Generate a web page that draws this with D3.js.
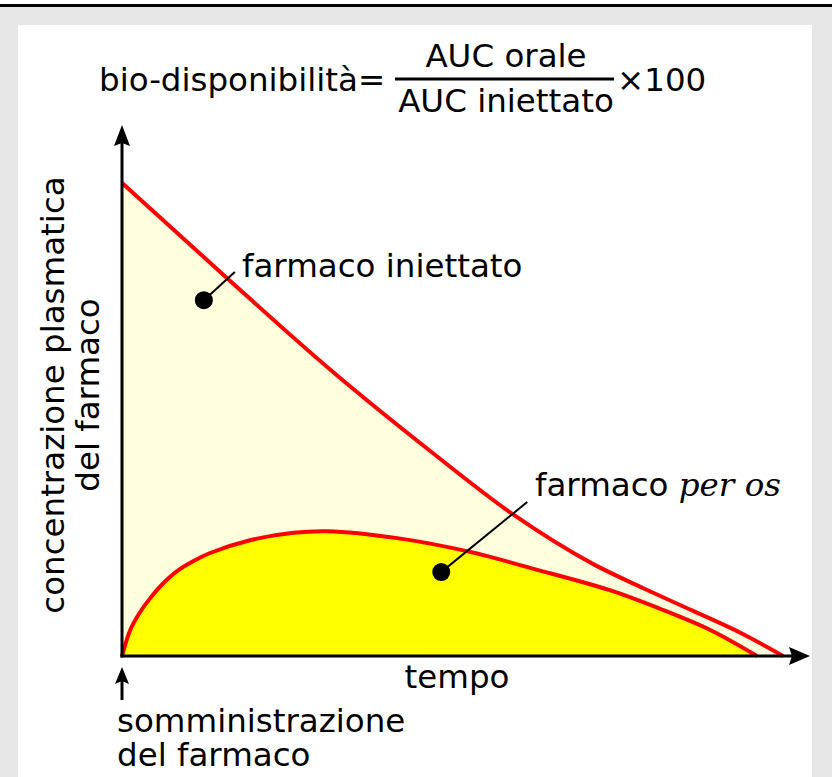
<!DOCTYPE html>
<html>
<head>
<meta charset="utf-8">
<script src="https://cdn.jsdelivr.net/npm/d3@7"></script>
<style>
  html, body { margin: 0; padding: 0; background: #fff; }
  svg { display: block; font-family: "DejaVu Sans", sans-serif; }
</style>
</head>
<body>
<svg id="chart" width="832" height="777"></svg>
<script>
// tempo (arbitrary units) and plasma concentration
const tempoIniettato = [0, 1.54, 3.02, 4.48, 5.68, 6.85, 7.57, 8.30, 9.03, 9.61];
const concIniettato = [8.91, 7.10, 5.40, 3.86, 2.67, 1.73, 1.28, 0.85, 0.41, 0];

const tempoOrale = [0, 0.12, 0.25, 0.41, 0.60, 0.80, 1.04, 1.28, 1.86, 2.49, 2.98, 4.00, 5.06, 5.93, 7.09, 7.82, 8.55, 9.23];
const concOrale = [0, 0.49, 0.80, 1.09, 1.37, 1.60, 1.79, 1.94, 2.18, 2.32, 2.35, 2.22, 1.96, 1.66, 1.24, 0.89, 0.49, 0];

// annotation dots and leader ends, in data units
const labelDots = [
  { t: 1.19, c: 6.70, tEnd: 1.64, cEnd: 7.23 },
  { t: 4.64, c: 1.58, tEnd: 5.89, cEnd: 2.90 },
];

const width = 832;
const height = 777;
const svg = d3.select('#chart');

const xScale = d3.scaleLinear().domain([0, 10]).range([122, 810]);
const yScale = d3.scaleLinear().domain([0, 10]).range([656, 125]);

// background frame
svg.append('rect').attr('x', 0).attr('y', 0).attr('width', width).attr('height', height).attr('fill', '#e6e6e6');
svg.append('rect').attr('x', 0).attr('y', 0).attr('width', width).attr('height', 4).attr('fill', '#fff');
svg.append('rect').attr('x', 0).attr('y', 4).attr('width', width).attr('height', 3).attr('fill', '#000');
svg.append('rect').attr('x', 18).attr('y', 25).attr('width', 794).attr('height', height - 25).attr('fill', '#fff');

const zip = (ts, cs) => ts.map((t, i) => ({ t, c: cs[i] }));
const dataIniettato = zip(tempoIniettato, concIniettato);
const dataOrale = zip(tempoOrale, concOrale);

const drawCurve = (data, fill, curve) => {
  const area = d3.area().x((d) => xScale(d.t)).y0(yScale(0)).y1((d) => yScale(d.c)).curve(curve);
  const line = d3.line().x((d) => xScale(d.t)).y((d) => yScale(d.c)).curve(curve);
  svg.append('path').attr('d', area(data)).attr('fill', fill);
  return () => svg.append('path').attr('d', line(data))
    .attr('fill', 'none').attr('stroke', '#ff0000').attr('stroke-width', 4);
};

const strokeIniettato = drawCurve(dataIniettato, '#ffffde', d3.curveMonotoneX);
const strokeOrale = drawCurve(dataOrale, '#ffff00', d3.curveCatmullRom.alpha(0.5));
strokeIniettato();
strokeOrale();

// axes with arrow heads
const x0 = xScale(0);
const y0 = yScale(0);
const xTip = xScale(10);
const yTip = yScale(10);
svg.append('line').attr('x1', x0).attr('y1', y0 + 1.5).attr('x2', x0).attr('y2', yTip + 14)
  .attr('stroke', '#000').attr('stroke-width', 3);
svg.append('line').attr('x1', x0 - 1.5).attr('y1', y0).attr('x2', xTip - 14).attr('y2', y0)
  .attr('stroke', '#000').attr('stroke-width', 3);
svg.append('path')
  .attr('d', `M${x0},${yTip} L${x0 - 8},${yTip + 21} L${x0},${yTip + 18} L${x0 + 8},${yTip + 21} Z`)
  .attr('fill', '#000');
svg.append('path')
  .attr('d', `M${xTip},${y0} L${xTip - 21},${y0 - 9} L${xTip - 18},${y0} L${xTip - 21},${y0 + 9} Z`)
  .attr('fill', '#000');

// dosing arrow
svg.append('line').attr('x1', x0).attr('y1', 700).attr('x2', x0).attr('y2', 678)
  .attr('stroke', '#000').attr('stroke-width', 3);
svg.append('path')
  .attr('d', `M${x0},667 L${x0 - 7},684 L${x0},681 L${x0 + 7},684 Z`)
  .attr('fill', '#000');

// label dots and leaders
labelDots.forEach((d) => {
  svg.append('line')
    .attr('x1', xScale(d.t)).attr('y1', yScale(d.c))
    .attr('x2', xScale(d.tEnd)).attr('y2', yScale(d.cEnd))
    .attr('stroke', '#000').attr('stroke-width', 2);
  svg.append('circle').attr('cx', xScale(d.t)).attr('cy', yScale(d.c)).attr('r', 9).attr('fill', '#000');
});

const fs = 32.5;
const text = (x, y, s, anchor) => svg.append('text')
  .attr('x', x).attr('y', y).attr('font-size', fs)
  .attr('text-anchor', anchor || 'start').attr('fill', '#000').text(s);

text(242, 277, 'farmaco iniettato');
const perOs = text(535, 496, 'farmaco ');
perOs.append('tspan').attr('font-family', '"DejaVu Serif", serif').attr('font-style', 'italic').text('per os');

text(457, 688, 'tempo', 'middle');
text(117, 732, 'somministrazione');
text(117, 766, 'del farmaco');

// y axis title
const yTitle = svg.append('g').attr('transform', 'translate(64,395) rotate(-90)');
yTitle.append('text').attr('x', 0).attr('y', 0).attr('font-size', fs).attr('text-anchor', 'middle')
  .text('concentrazione plasmatica');
yTitle.append('text').attr('x', 0).attr('y', 35).attr('font-size', fs).attr('text-anchor', 'middle')
  .text('del farmaco');

// formula
text(99, 91, 'bio-disponibilità=');
text(506, 67, 'AUC orale', 'middle');
text(506, 112, 'AUC iniettato', 'middle');
svg.append('line').attr('x1', 395).attr('y1', 79).attr('x2', 614).attr('y2', 79)
  .attr('stroke', '#000').attr('stroke-width', 3);
text(617, 91, '×100');
</script>
</body>
</html>
